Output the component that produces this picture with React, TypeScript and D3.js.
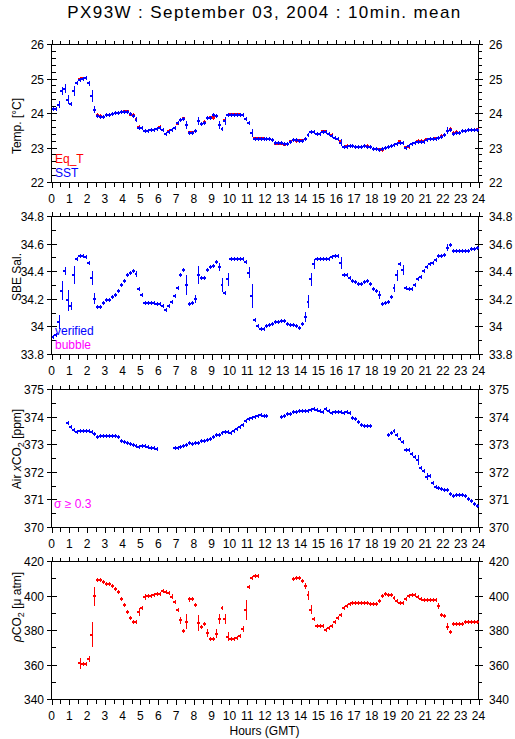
import React from "react";
import * as d3 from "d3";

// ---------- data (10-minute means, index k covers hour k/6 .. (k+1)/6) ----------
const X_TICK_LABELS = [0, 1, 2, 3, 4, 5, 6, 7, 8, 9, 10, 11, 12, 13, 14, 15, 16, 17, 18, 19, 20, 21, 22, 23, 24];

const TEMP_TICKS = [22, 23, 24, 25, 26];
const SAL_TICKS = [33.8, 34, 34.2, 34.4, 34.6, 34.8];
const XCO2_TICKS = [370, 371, 372, 373, 374, 375];
const PCO2_TICKS = [340, 360, 380, 400, 420];

const SST: (number | null)[] = [
  24.11, 24.11, 24.24, 24.63, 24.71, 24.39, 24.25, 24.63, 24.87, 24.96,
  25.0, 25.01, 24.86, 24.5, 24.1, 23.92, 23.89, 23.89, 23.94, 23.94,
  23.98, 23.99, 24.01, 24.03, 24.03, 24.03, 23.97, 23.92, 23.8, 23.57,
  23.56, 23.49, 23.49, 23.5, 23.52, 23.53, 23.57, 23.51, 23.38, 23.46,
  23.51, 23.56, 23.7, 23.79, 23.82, 23.65, 23.42, 23.42, 23.47, 23.77,
  23.69, 23.72, 23.85, 23.85, 23.93, 23.9, 23.65, 23.53, 23.76, 23.94,
  23.94, 23.94, 23.94, 23.94, 23.94, 23.84, 23.7, 23.42, 23.24, 23.25,
  23.25, 23.25, 23.24, 23.24, 23.21, 23.13, 23.13, 23.13, 23.1, 23.1,
  23.16, 23.22, 23.22, 23.18, 23.18, 23.26, 23.37, 23.44, 23.45, 23.4,
  23.4, 23.44, 23.44, 23.38, 23.33, 23.28, 23.26, 23.14, 23.02, 23.02,
  23.03, 23.05, 23.01, 23.01, 23.01, 23.03, 23.02, 23.01, 22.96, 22.96,
  22.94, 22.95, 22.98, 23.01, 23.04, 23.07, 23.11, 23.14, 23.13, 22.99,
  23.03, 23.09, 23.14, 23.17, 23.17, 23.17, 23.22, 23.25, 23.25, 23.25,
  23.28, 23.31, 23.35, 23.48, 23.51, 23.4, 23.43, 23.43, 23.47, 23.47,
  23.5, 23.5, 23.5, 23.5,
];
const SST_SIGMA: Record<number, number> = {
  2: 0.1, 3: 0.12, 4: 0.12, 5: 0.13, 7: 0.145, 12: 0.07, 13: 0.17, 14: 0.11,
  28: 0.07, 45: 0.11, 49: 0.11, 56: 0.11, 58: 0.11, 67: 0.12, 97: 0.11, 133: 0.1,
};
// Eq_T points where it shows beside SST: [index, value]
const EQT: [number, number][] = [
  [9, 24.98], [10, 24.99], [15, 23.93], [16, 23.9], [24, 24.04], [25, 24.04], [26, 23.96],
  [27, 23.93], [28, 23.81], [29, 23.58], [36, 23.58], [39, 23.47], [42, 23.71], [44, 23.83],
  [46, 23.43], [47, 23.43], [51, 23.73], [53, 23.86], [54, 23.86], [58, 23.78], [60, 23.95],
  [61, 23.95], [62, 23.95], [63, 23.95], [68, 23.26], [69, 23.26], [70, 23.26], [71, 23.26],
  [75, 23.12], [76, 23.12], [77, 23.12], [78, 23.09], [80, 23.17], [82, 23.2], [83, 23.19],
  [84, 23.19], [91, 23.45], [92, 23.45], [94, 23.35], [97, 23.16], [99, 23.03], [106, 23.03],
  [110, 22.93], [111, 22.94], [117, 23.16], [119, 23.0], [120, 23.02], [123, 23.18], [124, 23.18],
  [125, 23.18], [126, 23.23], [129, 23.26], [131, 23.32], [134, 23.53], [135, 23.41], [136, 23.44],
  [143, 23.51],
];

const SAL: (number | null)[] = [
  33.92, 33.94, 34.03, 34.26, 34.4, 34.19, 34.15, 34.37, 34.49, 34.51,
  34.51, 34.5, 34.46, 34.35, 34.2, 34.14, 34.14, 34.17, 34.19, 34.19,
  34.21, 34.23, 34.26, 34.3, 34.33, 34.37, 34.39, 34.4, 34.38, 34.27,
  34.23, 34.17, 34.17, 34.17, 34.17, 34.16, 34.16, 34.15, 34.12, 34.15,
  34.18, 34.22, 34.28, 34.37, 34.41, 34.3, 34.16, 34.17, 34.2, 34.37,
  34.35, 34.35, 34.41, 34.43, 34.44, 34.47, 34.43, 34.3, 34.24, 34.34,
  34.49, 34.49, 34.49, 34.49, 34.49, 34.47, 34.39, 34.22, 34.05, 34.0,
  33.98, 33.98, 34.0, 34.01, 34.02, 34.03, 34.03, 34.04, 34.04, 34.02,
  34.01, 34.01, 34.0, 33.99, 34.02, 34.07, 34.18, 34.34, 34.45, 34.49,
  34.49, 34.49, 34.49, 34.49, 34.5, 34.51, 34.51, 34.46, 34.37, 34.37,
  34.35, 34.33, 34.32, 34.31, 34.31, 34.32, 34.33, 34.31, 34.27, 34.26,
  34.23, 34.16, 34.17, 34.18, 34.21, 34.28, 34.37, 34.45, 34.41, 34.28,
  34.27, 34.27, 34.3, 34.34, 34.36, 34.4, 34.43, 34.45, 34.46, 34.48,
  34.51, 34.51, 34.52, 34.57, 34.59, 34.55, 34.55, 34.55, 34.55, 34.55,
  34.55, 34.56, 34.56, 34.57,
];
const SAL_SIGMA: Record<number, number> = {
  2: 0.05, 3: 0.07, 4: 0.03, 5: 0.075, 6: 0.03, 7: 0.065, 13: 0.05, 14: 0.04, 28: 0.025,
  45: 0.07, 48: 0.03, 49: 0.065, 56: 0.03, 57: 0.05, 59: 0.05, 66: 0.04, 67: 0.085,
  85: 0.035, 86: 0.05, 87: 0.05, 88: 0.035, 97: 0.045, 110: 0.03, 115: 0.03, 116: 0.04,
  118: 0.035, 133: 0.025,
};

const XCO2: (number | null)[] = [
  null, null, null, null, null, 373.76, 373.61, 373.51, 373.44, 373.48,
  373.48, 373.48, 373.48, 373.45, 373.36, 373.27, 373.31, 373.31, 373.31, 373.3,
  373.3, 373.3, 373.25, 373.13, 373.08, 373.04, 373.0, 372.96, 372.93, 372.89,
  372.93, 372.95, 372.89, 372.87, 372.85, 372.84, null, null, null, null,
  null, 372.85, 372.86, 372.9, 372.93, 372.96, 373.03, 373.0, 373.03, 373.04,
  373.1, 373.13, 373.15, 373.2, 373.27, 373.32, 373.35, 373.39, 373.43, 373.45,
  373.42, 373.49, 373.55, 373.64, 373.71, 373.83, 373.9, 373.95, 373.99, 374.03,
  374.07, 374.03, 374.02, null, null, null, null, 373.97, 374.02, 374.08,
  374.09, 374.15, 374.18, 374.19, 374.2, 374.19, 374.2, 374.24, 374.26, 374.24,
  374.19, 374.18, 374.29, 374.21, 374.14, 374.15, 374.15, 374.15, 374.13, 374.18,
  374.14, 373.94, 373.9, 373.8, 373.68, 373.65, 373.65, 373.65, null, null,
  null, null, null, 373.35, 373.42, 373.47, 373.32, 373.2, 373.07, 372.8,
  372.78, 372.63, 372.55, 372.43, 372.14, 372.03, 371.82, 371.85, 371.61, 371.46,
  371.4, 371.36, 371.35, 371.35, 371.2, 371.13, 371.16, 371.16, 371.16, 371.13,
  371.0, 370.94, 370.83, 370.76,
];
const XCO2_SIGMA: Record<number, number> = { 92: 0.07, 119: 0.05, 123: 0.18, 126: 0.12 };

const PCO2: (number | null)[] = [
  null, null, null, null, null, null, null, null, null, 360.6,
  360.2, 360.2, 363.2, 377.2, 399.6, 408.7, 408.7, 408.1, 406.4, 406.4,
  405.4, 403.6, 401.9, 397.8, 394.7, 390.2, 386.7, 384.4, 384.8, 390.2,
  392.9, 399.0, 399.6, 399.6, 400.3, 401.1, 401.1, 402.5, 402.1, 401.5,
  399.4, 396.3, 391.8, 385.6, 379.7, 384.8, 397.8, 397.8, 394.7, 384.2,
  381.7, 383.6, 378.2, 374.8, 374.8, 377.8, 386.5, 392.6, 386.5, 376.2,
  374.5, 374.5, 375.4, 376.4, 380.7, 391.4, 405.0, 409.9, 411.4, 411.4,
  null, null, null, null, null, null, null, null, null, null,
  null, 409.7, 410.3, 410.3, 408.3, 405.6, 400.1, 391.8, 386.3, 382.6,
  382.6, 382.6, 380.1, 381.1, 382.4, 384.8, 386.7, 388.5, 392.9, 393.9,
  394.9, 395.7, 395.7, 395.7, 395.7, 395.7, 395.7, 395.1, 395.3, 395.3,
  396.7, 400.0, 400.7, 400.5, 400.5, 398.4, 396.6, 395.7, 395.7, 398.2,
  399.6, 400.1, 400.1, 399.4, 397.8, 397.6, 397.6, 397.6, 397.6, 397.6,
  393.7, 388.9, 387.9, 382.0, 379.1, 383.2, 383.2, 383.2, 383.2, 384.8,
  384.8, 384.4, 384.4, 384.4,
];
const PCO2_SIGMA: Record<number, number> = {
  9: 3, 12: 2, 13: 7.3, 14: 5.5, 29: 2.3, 31: 1.7, 40: 1.7, 43: 2.2, 45: 4.5, 46: 1.5,
  49: 4.7, 52: 2.2, 55: 2.6, 56: 3, 58: 3, 59: 2.6, 64: 1.6, 65: 5.8, 85: 1.7, 86: 2.5,
  87: 2.6, 130: 1.8, 133: 2.1,
};

// ---------- layout ----------
const W = 515;
const H = 739;
const X0 = 51.5;
const X1 = 478.5;
const PH = 138;
const TOPS = [44, 216, 389, 561];
const YLAB_CENTERS = [126, 277, 449, 607];
const FONT = "'Liberation Sans', Arial, Helvetica, sans-serif";
const BLUE = "#0000ff";
const RED = "#ff0000";
const MAGENTA = "#ff00ff";

const xScale = d3.scaleLinear().domain([0, 24]).range([X0, X1]);
const STEP = 1 / 6;

type Pt = { k: number; v: number; s: number };

function toPoints(arr: (number | null)[], sig: Record<number, number>): Pt[] {
  const out: Pt[] = [];
  arr.forEach((v, k) => {
    if (v != null) out.push({ k, v, s: sig[k] ?? 0 });
  });
  return out;
}

function Crosses({ pts, y, color, hw = 2, vw = 1, minHalf = 2 }: { pts: Pt[]; y: d3.ScaleLinear<number, number>; color: string; hw?: number; vw?: number; minHalf?: number }) {
  return (
    <g shapeRendering="crispEdges">
      {pts.map((p) => {
        const xa = xScale(p.k * STEP);
        const xb = xScale((p.k + 1) * STEP);
        const xm = Math.round((xa + xb) / 2) + 0.5;
        const yy = y(p.v);
        const hh = Math.max(minHalf, Math.abs(y(p.v + p.s) - yy));
        return (
          <g key={p.k}>
            <line x1={xa} x2={xb} y1={yy} y2={yy} stroke={color} strokeWidth={hw} />
            <line x1={xm} x2={xm} y1={yy - hh} y2={yy + hh} stroke={color} strokeWidth={vw} />
          </g>
        );
      })}
    </g>
  );
}

function Frame({ top, y, ticks, minorStep, fmt }: { top: number; y: d3.ScaleLinear<number, number>; ticks: number[]; minorStep: number; fmt: (v: number) => string }) {
  const bottom = top + PH;
  const [d0, d1] = y.domain();
  const minors: number[] = [];
  const n = Math.round((d1 - d0) / minorStep);
  for (let i = 0; i <= n; i++) minors.push(d0 + i * minorStep);
  const xt: number[] = [];
  for (let i = 0; i <= 48; i++) xt.push(i / 2);
  return (
    <g stroke="#000" strokeWidth={1} fill="none">
      <g shapeRendering="crispEdges">
        <rect x={X0} y={top + 0.5} width={X1 - X0} height={PH} />
        {xt.map((h, i) => {
          const x = Math.round(xScale(h)) + 0.5;
          const len = i % 2 === 0 ? 5 : 4;
          return (
            <g key={"x" + i}>
              <line x1={x} x2={x} y1={top + 0.5} y2={top + 0.5 - len} />
              <line x1={x} x2={x} y1={bottom + 0.5} y2={bottom + 0.5 + len} />
            </g>
          );
        })}
        {minors.map((v, i) => {
          const yy = Math.round(y(v)) + 0.5;
          return (
            <g key={"m" + i}>
              <line x1={X0} x2={X0 + 4} y1={yy} y2={yy} />
              <line x1={X1} x2={X1 + 3} y1={yy} y2={yy} />
            </g>
          );
        })}
        {ticks.map((v, i) => {
          const yy = Math.round(y(v)) + 0.5;
          return (
            <g key={"t" + i}>
              <line x1={X0 - 5} x2={X0 + 5} y1={yy} y2={yy} />
              <line x1={X1 - 4} x2={X1 + 4} y1={yy} y2={yy} />
            </g>
          );
        })}
      </g>
      {ticks.map((v, i) => {
        const yy = Math.round(y(v)) + 0.5;
        return (
          <g key={"tl" + i}>
            <text x={44} y={yy + 4.5} textAnchor="end" stroke="none" fill="#000" fontSize={12} fontFamily={FONT}>{fmt(v)}</text>
            <text x={489} y={yy + 4.5} textAnchor="start" stroke="none" fill="#000" fontSize={12} fontFamily={FONT}>{fmt(v)}</text>
          </g>
        );
      })}
      {X_TICK_LABELS.map((h) => (
        <text key={"l" + h} x={xScale(h)} y={bottom + 21} textAnchor="middle" stroke="none" fill="#000" fontSize={12} fontFamily={FONT}>{h}</text>
      ))}
    </g>
  );
}

export default function App() {
  const yT = d3.scaleLinear().domain([22, 26]).range([TOPS[0] + PH, TOPS[0]]);
  const yS = d3.scaleLinear().domain([33.8, 34.8]).range([TOPS[1] + PH, TOPS[1]]);
  const yX = d3.scaleLinear().domain([370, 375]).range([TOPS[2] + PH, TOPS[2]]);
  const yP = d3.scaleLinear().domain([340, 420]).range([TOPS[3] + PH, TOPS[3]]);
  const fmt = (v: number) => String(v);
  const eqPts: Pt[] = EQT.map(([k, v]) => ({ k, v, s: 0 }));
  const ylab = (i: number, content: React.ReactNode) => (
    <text transform={`translate(21,${YLAB_CENTERS[i]}) rotate(-90)`} textAnchor="middle" fontSize={12} fontFamily={FONT} fill="#000">{content}</text>
  );
  return (
    <svg width={W} height={H} style={{ position: "absolute", left: 0, top: 0, background: "#fff" }} xmlns="http://www.w3.org/2000/svg">
      <rect width={W} height={H} fill="#fff" />
      <text x={264.5} y={18} textAnchor="middle" fontSize={17} letterSpacing={1.4} fontFamily={FONT} fill="#000">PX93W : September 03, 2004 : 10min. mean</text>

      <Frame top={TOPS[0]} y={yT} ticks={TEMP_TICKS} minorStep={0.2} fmt={fmt} />
      <Frame top={TOPS[1]} y={yS} ticks={SAL_TICKS} minorStep={0.1} fmt={fmt} />
      <Frame top={TOPS[2]} y={yX} ticks={XCO2_TICKS} minorStep={0.5} fmt={fmt} />
      <Frame top={TOPS[3]} y={yP} ticks={PCO2_TICKS} minorStep={10} fmt={fmt} />

      {ylab(0, "Temp. [°C]")}
      {ylab(1, "SBE Sal.")}
      {ylab(2, <>Air <tspan fontStyle="italic">x</tspan>CO<tspan dy={3} fontSize={9}>2</tspan><tspan dy={-3}> [ppm]</tspan></>)}
      {ylab(3, <><tspan fontStyle="italic">ρ</tspan>CO<tspan dy={3} fontSize={9}>2</tspan><tspan dy={-3}> [μ atm]</tspan></>)}

      <Crosses pts={eqPts} y={yT} color={RED} hw={3} vw={1} />
      <Crosses pts={toPoints(SST, SST_SIGMA)} y={yT} color={BLUE} />
      <Crosses pts={toPoints(SAL, SAL_SIGMA)} y={yS} color={BLUE} />
      <Crosses pts={toPoints(XCO2, XCO2_SIGMA)} y={yX} color={BLUE} />
      <Crosses pts={toPoints(PCO2, PCO2_SIGMA)} y={yP} color={RED} />

      <text x={55} y={163} fontSize={12} fontFamily={FONT} fill={RED}>Eq_T</text>
      <text x={55} y={177} fontSize={12} fontFamily={FONT} fill={BLUE}>SST</text>
      <text x={55} y={335} fontSize={12} fontFamily={FONT} fill={BLUE}>verified</text>
      <text x={55} y={349} fontSize={12} fontFamily={FONT} fill={MAGENTA}>bubble</text>
      <text x={54} y={508} fontSize={12} fontFamily={FONT} fill={MAGENTA}>σ ≥ 0.3</text>

      <text x={264.5} y={735} textAnchor="middle" fontSize={12} fontFamily={FONT} fill="#000">Hours (GMT)</text>
    </svg>
  );
}
